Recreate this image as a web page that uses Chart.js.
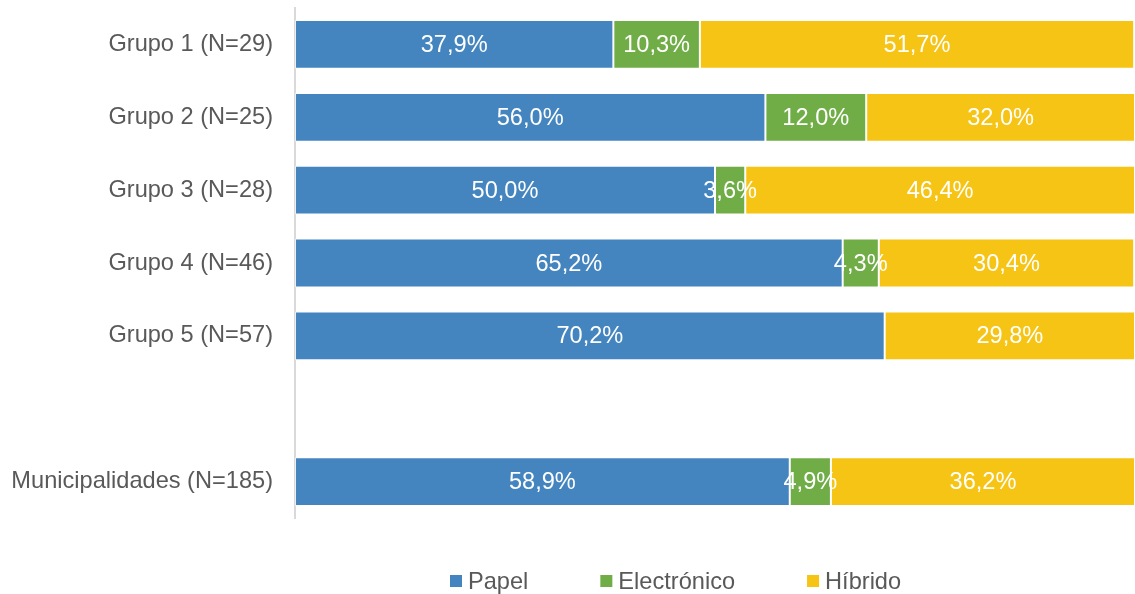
<!DOCTYPE html>
<html>
<head>
<meta charset="utf-8">
<script src="https://cdn.jsdelivr.net/npm/chart.js@4/dist/chart.umd.min.js"></script>
<style>
  html, body { margin: 0; padding: 0; background: #ffffff; }
  #wrap { position: relative; width: 1135px; height: 594px; }
</style>
</head>
<body>
<div id="wrap"><canvas id="chart" width="1135" height="594"></canvas></div>
<script>
// Categories (blank entry keeps the gap before the overall total)
const categories = [
  'Grupo 1 (N=29)',
  'Grupo 2 (N=25)',
  'Grupo 3 (N=28)',
  'Grupo 4 (N=46)',
  'Grupo 5 (N=57)',
  '',
  'Municipalidades (N=185)'
];

// Share of each format, in percent
const papel       = [37.9, 56.0, 50.0, 65.2, 70.2, null, 58.9];
const electronico = [10.3, 12.0,  3.6,  4.3,  0.0, null,  4.9];
const hibrido     = [51.7, 32.0, 46.4, 30.4, 29.8, null, 36.2];

const seriesNames = ['Papel', 'Electrónico', 'Híbrido'];
const seriesColors = ['#4485BF', '#70AD47', '#F6C414'];

const FONT = '"Liberation Sans", Arial, sans-serif';
const FONT_SIZE = 23.6;

function fmt(v) {
  return v.toFixed(1).replace('.', ',') + '%';
}

// Value labels centred inside each segment
const segmentLabels = {
  id: 'segmentLabels',
  afterDatasetsDraw(chart) {
    const ctx = chart.ctx;
    ctx.save();
    ctx.font = FONT_SIZE + 'px ' + FONT;
    ctx.fillStyle = '#ffffff';
    ctx.textAlign = 'center';
    ctx.textBaseline = 'middle';
    chart.data.datasets.forEach((ds, i) => {
      const meta = chart.getDatasetMeta(i);
      meta.data.forEach((el, j) => {
        const v = ds.data[j];
        if (v == null || v <= 0) return;
        const props = el.getProps(['x', 'y', 'base'], true);
        ctx.fillText(fmt(v), (props.x + props.base) / 2, props.y + 1);
      });
    });
    ctx.restore();
  }
};

// Legend row under the plot
const bottomLegend = {
  id: 'bottomLegend',
  afterDraw(chart) {
    const ctx = chart.ctx;
    ctx.save();
    ctx.font = FONT_SIZE + 'px ' + FONT;
    ctx.textBaseline = 'middle';
    ctx.textAlign = 'left';
    let x = 450;
    const y = 581;
    chart.data.datasets.forEach((ds) => {
      ctx.fillStyle = ds.backgroundColor;
      ctx.fillRect(x, y - 6, 12, 12);
      ctx.fillStyle = '#595959';
      ctx.fillText(ds.label, x + 18, y + 1);
      x += 18 + ctx.measureText(ds.label).width + 72;
    });
    ctx.restore();
  }
};

const datasets = [papel, electronico, hibrido].map((data, i) => ({
  label: seriesNames[i],
  data: data,
  backgroundColor: seriesColors[i],
  borderColor: 'rgba(255,255,255,0.55)',
  borderWidth: 1,
  borderSkipped: false,
  categoryPercentage: 1.0,
  barPercentage: 0.67
}));

new Chart(document.getElementById('chart'), {
  type: 'bar',
  data: { labels: categories, datasets: datasets },
  plugins: [segmentLabels, bottomLegend],
  options: {
    indexAxis: 'y',
    responsive: false,
    animation: false,
    layout: { padding: { top: 8, right: 0, bottom: 76, left: 0 } },
    plugins: {
      legend: { display: false },
      tooltip: { enabled: false }
    },
    scales: {
      x: {
        stacked: true,
        min: 0,
        max: 100,
        display: false
      },
      y: {
        stacked: true,
        afterFit(scale) {
          scale.width = 295;
          scale.paddingTop = 0;
          scale.paddingBottom = 0;
        },
        grid: { display: false, drawTicks: false },
        border: { display: true, color: '#d9d9d9', width: 2 },
        ticks: {
          color: '#595959',
          padding: 22,
          font: { family: FONT, size: FONT_SIZE }
        }
      }
    }
  }
});
</script>
</body>
</html>
